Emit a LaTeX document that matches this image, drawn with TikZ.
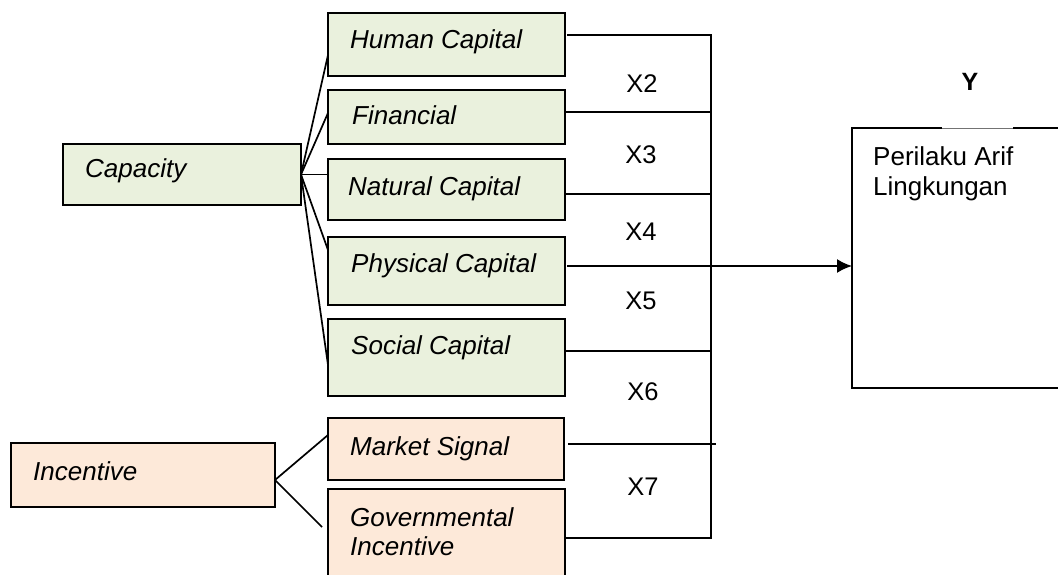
\documentclass[tikz,border=0pt]{standalone}
\usepackage{fontspec}
\setmainfont{Liberation Sans}
\usetikzlibrary{arrows.meta}
\definecolor{capgreen}{HTML}{EAF1DD}
\definecolor{incpeach}{HTML}{FDE9D9}
\begin{document}
\begin{tikzpicture}[x=1pt,y=-1pt,
  every node/.style={font=\fontsize{26}{30}\selectfont},
  boxn/.style={draw, line width=1.8pt, anchor=north west, inner sep=0pt, outer sep=0pt},
  gbox/.style={boxn, fill=capgreen},
  pbox/.style={boxn, fill=incpeach},
  itxt/.style={anchor=base west, inner sep=0pt, font=\fontsize{26}{30}\selectfont\itshape},
  xlab/.style={anchor=base, inner sep=0pt, font=\fontsize{25.5}{30}\selectfont},
  conn/.style={line width=1.7pt}]
\useasboundingbox (0,0) rectangle (1058,575);
\clip (0,0) rectangle (1058,575);

% left boxes
\node[gbox, minimum width=238pt, minimum height=61pt] (cap) at (63,144) {};
\node[pbox, minimum width=264pt, minimum height=64pt] (inc) at (11,443) {};
% middle boxes
\node[gbox, minimum width=237pt, minimum height=63pt] (hum) at (328,13) {};
\node[gbox, minimum width=237pt, minimum height=54pt] (fin) at (328,90) {};
\node[gbox, minimum width=237pt, minimum height=61pt] (nat) at (328,159) {};
\node[gbox, minimum width=237pt, minimum height=68pt] (phy) at (328,237) {};
\node[gbox, minimum width=237pt, minimum height=77pt] (soc) at (328,319) {};
\node[pbox, minimum width=236pt, minimum height=62pt] (mkt) at (328,418) {};
\node[pbox, minimum width=237pt, minimum height=110pt] (gov) at (328,489) {};

% texts
\node[itxt] (tcap) at (85,178) {Capacity};
\node[itxt] (tinc) at (33,480) {Incentive};
\node[itxt] (thum) at (350,49) {Human Capital};
\node[itxt] (tfin) at (352,125) {Financial};
\node[itxt] (tnat) at (348,195) {Natural Capital};
\node[itxt] (tphy) at (351,272) {Physical Capital};
\node[itxt] (tsoc) at (351,354) {Social Capital};
\node[itxt] (tmkt) at (350,455) {Market Signal};
\node[itxt] (tgov1) at (350,526) {Governmental};
\node[itxt] (tgov2) at (350,555) {Incentive};

% target box Y
\node[anchor=north west, minimum width=230pt, minimum height=260pt, inner sep=0pt, outer sep=0pt, draw, line width=1.3pt] (yb) at (852,128) {};
\draw[white, line width=1.6pt] (942,128) -- (1013,128);
\draw[black!55, line width=0.6pt] (942,128) -- (1013,128);
\node[anchor=base west, inner sep=0pt, align=left] (ytxt1) at (873,165) {Perilaku Arif};
\node[anchor=base west, inner sep=0pt, align=left] (ytxt2) at (873,195) {Lingkungan};
\node[anchor=base, inner sep=0pt, font=\fontsize{25}{30}\selectfont\bfseries] (ylab) at (970,91) {Y};

% fan from Capacity
\draw[conn] (cap.east) -- ([yshift=-10.5pt]hum.west);
\draw[conn] (cap.east) -- ([yshift=4pt]fin.west);
\draw[conn] (cap.east) -- (cap.east -| nat.west);
\draw[conn] (cap.east) -- ([yshift=21pt]phy.west);
\draw[conn] (cap.east) -- ([yshift=-7.5pt]soc.west);
% fan from Incentive
\draw[conn] ([yshift=-5pt]inc.east) -- ([yshift=14pt]mkt.west);
\draw[conn] ([yshift=-5pt]inc.east) -- ([xshift=-6pt,yshift=-38pt]gov.north west);

% right connectors
\coordinate (hs) at ([xshift=2pt,yshift=9.5pt]hum.east);
\coordinate (gs) at ([yshift=-49pt]gov.north east);
\coordinate (bustop) at (711,0 |- hs);
\coordinate (busbot) at (bustop |- gs);
\draw[conn] (hs) -- (bustop) -- (busbot) -- (gs);
\draw[conn] ([yshift=5pt]fin.east) -- ([yshift=5pt]fin.east -| bustop);
\draw[conn] ([yshift=-4.5pt]nat.east) -- ([yshift=-4.5pt]nat.east -| bustop);
\coordinate (ps) at ([xshift=2pt,yshift=5pt]phy.east);
\draw[conn, -{Latex[length=15pt,width=14pt]}] (ps) -- (ps -| yb.west);
\draw[conn] ([yshift=6.5pt]soc.east) -- ([yshift=6.5pt]soc.east -| bustop);
\coordinate (ms) at ([xshift=4pt,yshift=5pt]mkt.east);
\draw[conn] (ms) -- ([xshift=5pt]ms -| bustop);

% X labels
\node[xlab] (x2) at (642,93) {X2};
\node[xlab] (x3) at (641,164) {X3};
\node[xlab] (x4) at (641,240) {X4};
\node[xlab] (x5) at (641,309) {X5};
\node[xlab] (x6) at (643,400) {X6};
\node[xlab] (x7) at (643,495) {X7};
\end{tikzpicture}
\end{document}
